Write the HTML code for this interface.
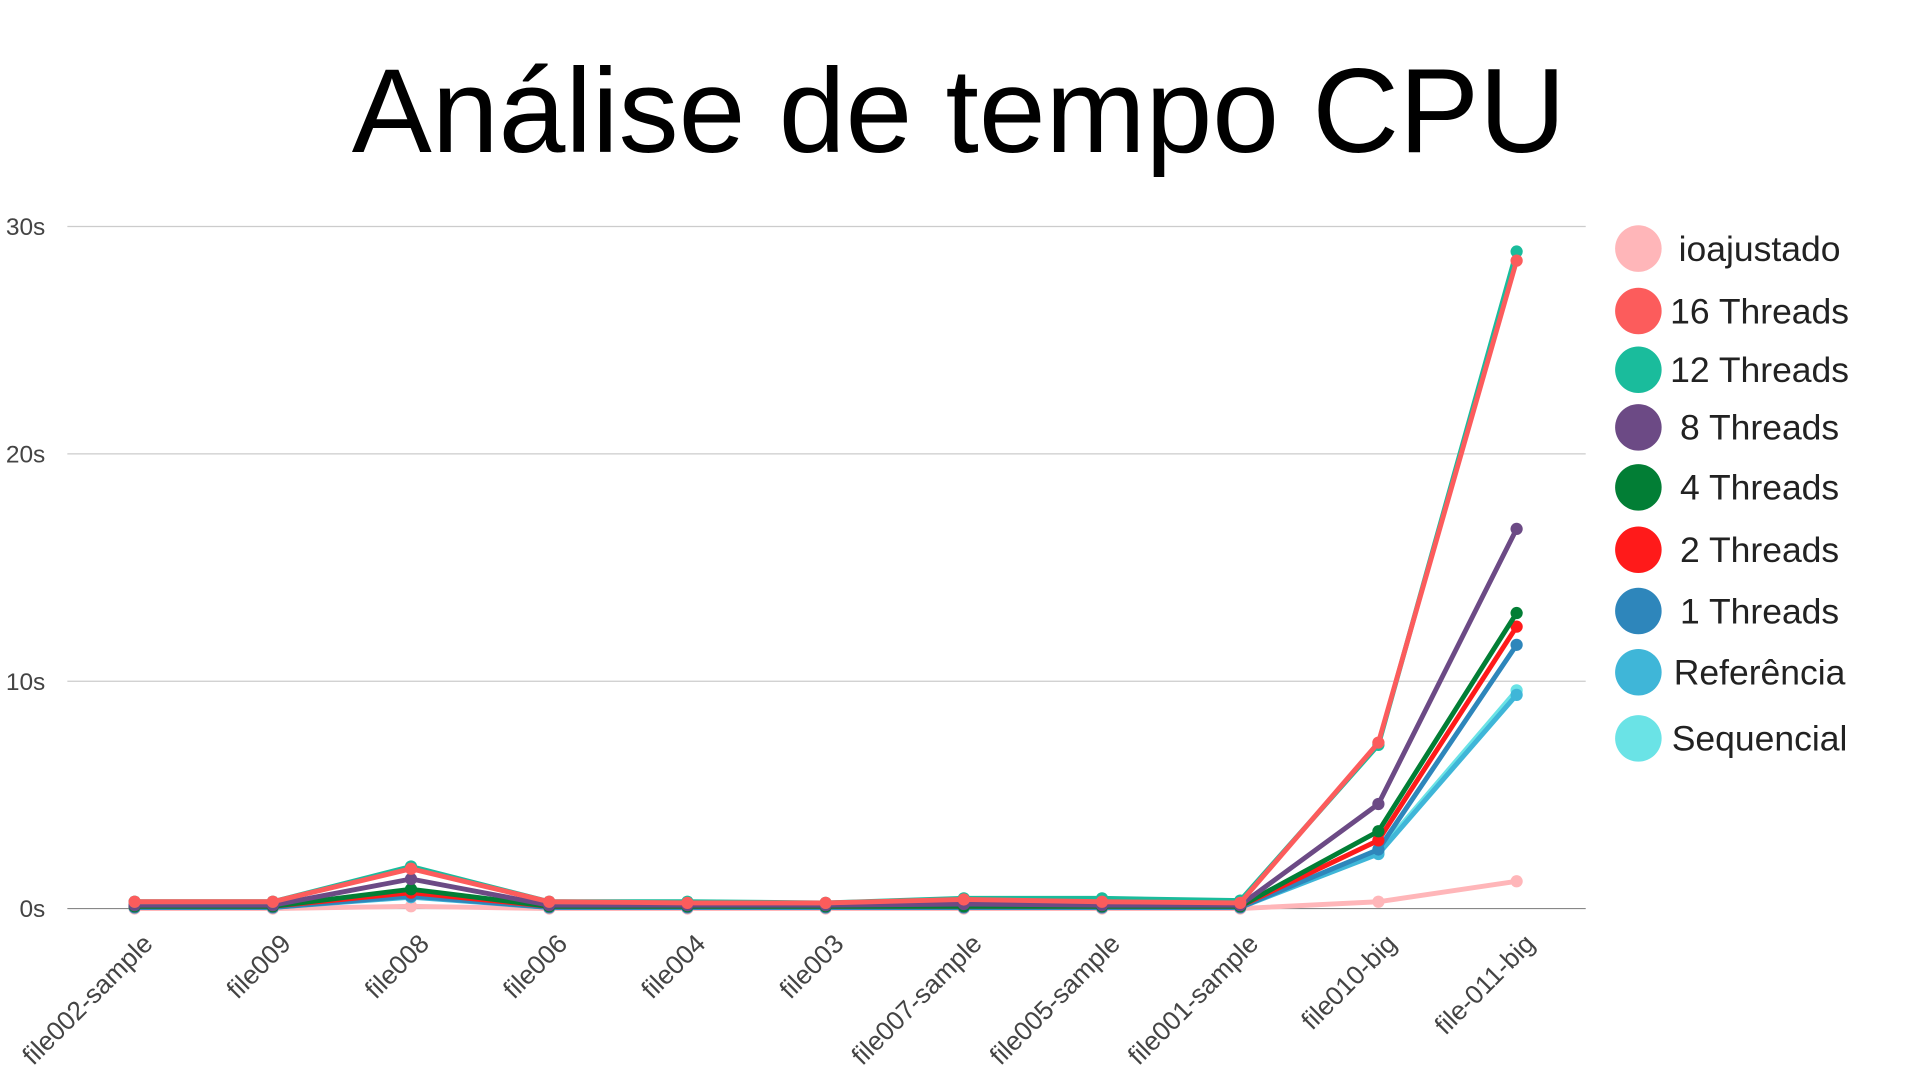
<!DOCTYPE html>
<html><head><meta charset="utf-8"><style>
html,body{margin:0;padding:0;background:#fff;}
svg{display:block;font-family:"Liberation Sans",sans-serif;}
</style></head><body>
<svg id="chart" width="1920" height="1080" viewBox="0 0 1568 882" xmlns="http://www.w3.org/2000/svg">
<text x="783" y="124" text-anchor="middle" font-size="98" fill="#000">Análise de tempo CPU</text>
<g id="grid"></g><g id="xlabels"></g><g id="series"></g><g id="legend"></g>
</svg>
<script>
const categories=["file002-sample","file009","file008","file006","file004","file003","file007-sample","file005-sample","file001-sample","file010-big","file-011-big"];
const yTicks=[0,10,20,30];
const seriesNames=["ioajustado","16 Threads","12 Threads","8 Threads","4 Threads","2 Threads","1 Threads","Referência","Sequencial"];
const seriesColors=["#ffb6b9","#fc5c5c","#1abc9c","#6c4a85","#027e35","#ff1a1a","#2e86bb","#3fb6d8","#6ae3e6"];
const vIo=[0,0,0.1,0,0,0,0,0,0,0.3,1.2];
const v16=[0.3,0.3,1.75,0.3,0.25,0.25,0.4,0.3,0.25,7.3,28.5];
const v12=[0.3,0.3,1.85,0.3,0.3,0.25,0.45,0.45,0.35,7.2,28.9];
const v8=[0.15,0.15,1.3,0.15,0.15,0.15,0.2,0.15,0.15,4.6,16.7];
const v4=[0.1,0.1,0.85,0.1,0.1,0.1,0.1,0.1,0.1,3.4,13.0];
const v2=[0.1,0.1,0.7,0.1,0.1,0.1,0.1,0.1,0.1,3.0,12.4];
const v1=[0.05,0.05,0.55,0.05,0.05,0.05,0.05,0.05,0.05,2.6,11.6];
const vRef=[0.05,0.05,0.5,0.05,0.05,0.05,0.05,0.05,0.05,2.4,9.4];
const vSeq=[0.05,0.05,0.55,0.05,0.05,0.05,0.05,0.05,0.05,2.5,9.6];
const seriesValues=[vIo,v16,v12,v8,v4,v2,v1,vRef,vSeq];

const NS="http://www.w3.org/2000/svg";
const X0=53.5,XW=1295-53.5,Y0=742,Y30=185;
function xs(i){return X0+XW/categories.length*(i+0.5);}
function ys(v){return Y0-(Y0-Y30)*v/30;}
function mk(t,a,p){const e=document.createElementNS(NS,t);for(const k in a)e.setAttribute(k,a[k]);p.appendChild(e);return e;}
const grid=document.getElementById('grid');
yTicks.forEach(t=>{
 const l=mk('line',{x1:55,x2:1295,y1:ys(t),y2:ys(t),stroke:t===0?'#888':'#ccc','stroke-width':1},grid);
 
 
 const tx=mk('text',{x:37,y:ys(t)+7,'text-anchor':'end','font-size':20,fill:'#444'},grid);
 tx.textContent=t+'s';
 
 
});
const xl=document.getElementById('xlabels');
categories.forEach((c,i)=>{
 const x=xs(i)+16,y=772;
 const t=mk('text',{x:x,y:y,'text-anchor':'end','font-size':21.5,fill:'#444',transform:`rotate(-45 ${x} ${y})`},xl);
 t.textContent=c;
 
 
});
const sg=document.getElementById('series');
const order=[0,8,7,6,5,4,3,2,1];
order.forEach(s=>{
 const g=mk('g',{},sg);
 
 
 const pts=seriesValues[s].map((v,i)=>xs(i)+','+ys(v)).join(' ');
 const pl=mk('polyline',{points:pts,fill:'none',stroke:seriesColors[s],'stroke-width':4,'stroke-linejoin':'round'},g);
 
 
 seriesValues[s].forEach((v,i)=>{
  const c=mk('circle',{cx:xs(i),cy:ys(v),r:5,fill:seriesColors[s]},g);
  
  
 });
});
const lg=document.getElementById('legend');
const ly=[203,254,302,349,398,449,499,549,603];
seriesNames.forEach((n,i)=>{
 const g=mk('g',{},lg);
 
 
 mk('circle',{cx:1338,cy:ly[i],r:19,fill:seriesColors[i]},g);
 const t=mk('text',{x:1437,y:ly[i]+10,'text-anchor':'middle','font-size':29,fill:'#222'},g);
 t.textContent=n;
});
</script>
</body></html>
